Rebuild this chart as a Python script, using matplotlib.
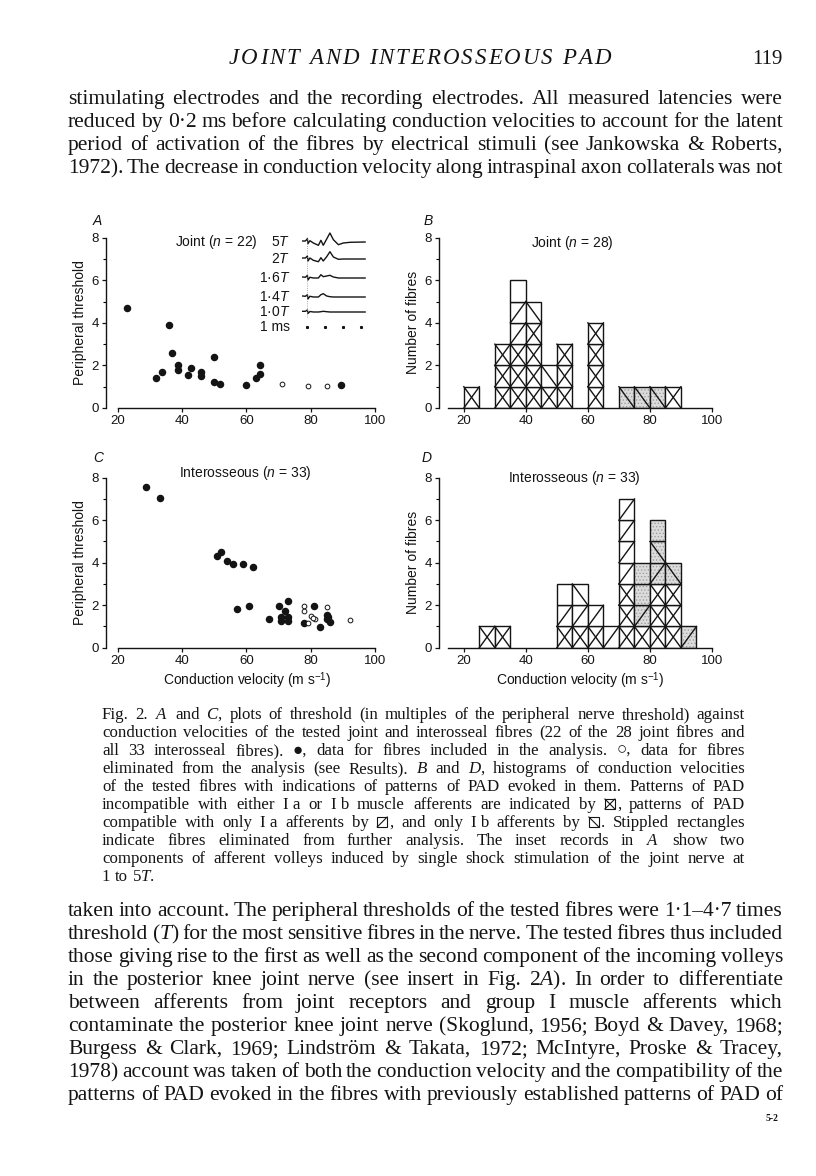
import matplotlib
matplotlib.use('Agg')
import matplotlib.pyplot as plt
from matplotlib.patches import Rectangle
from matplotlib.lines import Line2D

plt.rcParams['font.family'] = ['Liberation Sans', 'DejaVu Sans']
plt.rcParams['mathtext.fontset'] = 'custom'
plt.rcParams['mathtext.rm'] = 'Liberation Serif'
plt.rcParams['mathtext.it'] = 'Liberation Serif:italic'
plt.rcParams['mathtext.sf'] = 'Liberation Sans:italic'
plt.rcParams['mathtext.bf'] = 'Liberation Sans'
plt.rcParams['hatch.linewidth'] = 0.6

# ---- panel A: joint fibres (threshold vs conduction velocity) ----
a_cv_in = [22.9, 35.9, 36.8, 31.8, 33.8, 38.8, 38.8, 42.8, 41.8, 45.9, 45.9,
           49.8, 49.8, 51.8, 60.0, 63.0, 64.2, 64.2, 89.4]
a_thr_in = [4.72, 3.9, 2.58, 1.41, 1.67, 2.03, 1.77, 1.9, 1.53, 1.69, 1.52,
            2.39, 1.22, 1.14, 1.09, 1.41, 1.59, 2.0, 1.09]
a_cv_out = [71.1, 79.1, 85.1]
a_thr_out = [1.12, 1.05, 1.02]

# ---- panel C: interosseous fibres ----
c_cv_in = [28.9, 33.0, 50.9, 52.0, 53.9, 55.8, 58.8, 61.9, 57.0, 60.9, 67.0,
           70.0, 70.9, 70.9, 72.1, 73.0, 73.0, 73.0, 78.0, 81.1, 85.0, 85.0,
           86.0, 83.0, 85.3]
c_thr_in = [7.55, 7.06, 4.30, 4.50, 4.08, 3.92, 3.92, 3.81, 1.82, 1.98, 1.36,
            1.95, 1.46, 1.25, 1.74, 2.20, 1.46, 1.25, 1.18, 1.98, 1.54, 1.35,
            1.19, 0.99, 1.45]
c_cv_out = [78.0, 78.0, 79.1, 80.0, 81.2, 85.1, 92.3, 80.6]
c_thr_out = [1.96, 1.74, 1.15, 1.50, 1.36, 1.90, 1.30, 1.42]

# ---- histograms: one string per 5 m/s bin, cells from bottom to top ----
# x: incompatible with Ia and Ib, a: Ia only, b: Ib only, o: none
# upper case = stippled (eliminated), S = stippled without pattern
b_bins = [20, 30, 35, 40, 45, 50, 60, 70, 75, 80, 85]
b_cells = ['x', 'xxx', 'xxxaao', 'xxxxb', 'xb', 'xxx', 'xxxx', 'B', 'B', 'B', 'x']
d_bins = [25, 30, 50, 55, 60, 65, 70, 75, 80, 85, 90]
d_cells = ['x', 'x', 'xao', 'xab', 'xa', 'a', 'xxxaaaa', 'xASS', 'xxxABS', 'xxxB', 'A']

# ---- inset records in A (time in ms, deflection in px) ----
t_ms = [-0.22, -0.07, 0.04, 0.07, 0.18, 0.37, 0.65, 0.79, 0.92, 1.11, 1.29,
        1.48, 1.76, 2.03, 2.41, 3.24]
trace_labels = ['5$\\mathsf{T}$', '2$\\mathsf{T}$', '1·6$\\mathsf{T}$', '1·4$\\mathsf{T}$', '1·0$\\mathsf{T}$']
trace_y = [242, 259, 278, 297, 312]
traces = [
    [1, 1, 3.3, -1.7, 1.3, -1, -3.3, 1.7, -3.3, 3, 9, 2.3, -2.7, -1, -0.3, 0],
    [1, 1, 3, -2, 1, -1.3, -2.7, 1.3, -2, 2.3, 7.3, 2, -0.3, 0, 0, 0],
    [1, 0.7, 2.7, -2, 0.7, 0, 0, 3.3, 1.3, 2, 2.7, 1, 0, 0, 0, 0],
    [1, 0.7, 2.3, -2, 0.7, 0, 0, 2.3, 3.3, 1, 0.3, 0, 0, 0, 0, 0],
    [0.7, 0.7, 2, -1.5, 0.5, 0, 0, 0.3, 0.7, 0.3, 0, 0, 0, 0, 0, 0],
]
ms_marks = [0, 1, 2, 3]

# ---- page text ----
header = 'JOINT AND INTEROSSEOUS PAD'
page_no = '119'
top_lines = [
    'stimulating electrodes and the recording electrodes. All measured latencies were',
    'reduced by 0·2 ms before calculating conduction velocities to account for the latent',
    'period of activation of the fibres by electrical stimuli (see Jankowska & Roberts,',
    '1972). The decrease in conduction velocity along intraspinal axon collaterals was not',
]
caption_lines = [
    'Fig. 2. $A$ and $C$, plots of threshold (in multiples of the peripheral nerve threshold) against',
    'conduction velocities of the tested joint and interosseal fibres (22 of the 28 joint fibres and',
    'all 33 interosseal fibres). ●, data for fibres included in the analysis. ○, data for fibres',
    'eliminated from the analysis (see Results). $B$ and $D$, histograms of conduction velocities',
    'of the tested fibres with indications of patterns of PAD evoked in them. Patterns of PAD',
    'incompatible with either I\u00a0a or I\u00a0b muscle afferents are indicated by [X], patterns of PAD',
    'compatible with only I\u00a0a afferents by [/], and only I\u00a0b afferents by [\\]. Stippled rectangles',
    'indicate fibres eliminated from further analysis. The inset records in $A$ show two',
    'components of afferent volleys induced by single shock stimulation of the joint nerve at',
    '1 to 5$T$.',
]
bottom_lines = [
    'taken into account. The peripheral thresholds of the tested fibres were 1·1–4·7 times',
    'threshold ($T$) for the most sensitive fibres in the nerve. The tested fibres thus included',
    'those giving rise to the first as well as the second component of the incoming volleys',
    'in the posterior knee joint nerve (see insert in Fig. 2$A$). In order to differentiate',
    'between afferents from joint receptors and group I muscle afferents which',
    'contaminate the posterior knee joint nerve (Skoglund, 1956; Boyd & Davey, 1968;',
    'Burgess & Clark, 1969; Lindström & Takata, 1972; McIntyre, Proske & Tracey,',
    '1978) account was taken of both the conduction velocity and the compatibility of the',
    'patterns of PAD evoked in the fibres with previously established patterns of PAD of',
]

W, H = 816, 1176
INK = '#141414'
STIPPLE = '#dcdcdc'
SERIF = 'Liberation Serif'
SYMBOL_FONTS = ['Liberation Serif', 'DejaVu Sans']
BOXES = ('[X]', '[/]', '[\\]')
BOX_W = 10


def fx(x):
    return x / W


def fy(y):
    return 1 - y / H


fig = plt.figure(figsize=(W / 100, H / 100), dpi=100)
fig.patch.set_facecolor('white')


def style_axes(ax, xstart):
    for s in ['top', 'right']:
        ax.spines[s].set_visible(False)
    ax.spines['bottom'].set_bounds(xstart, 100)
    ax.spines['left'].set_bounds(0, 8)
    for s in ['bottom', 'left']:
        ax.spines[s].set_linewidth(1.0)
        ax.spines[s].set_color(INK)
    ax.set_ylim(0, 8)
    ax.set_xticks([20, 40, 60, 80, 100])
    ax.set_yticks([0, 2, 4, 6, 8])
    ax.set_yticks([1, 3, 5, 7], minor=True)
    ax.tick_params(direction='out', length=3, width=0.9, labelsize=9.5, pad=2, colors=INK)
    ax.tick_params(which='minor', length=2, width=0.8)
    ax.patch.set_visible(False)


def draw_hist(ax, bins, cells):
    for left, col in zip(bins, cells):
        for lev, code in enumerate(col):
            if code.isupper():
                # stippled cell: light grey with a fine dot texture
                ax.bar(left, 1, width=5, bottom=lev, align='edge', color=STIPPLE,
                       hatch='.....', edgecolor='0.62', linewidth=0, zorder=2)
            ax.bar(left, 1, width=5, bottom=lev, align='edge',
                   fill=not code.isupper(), color='white',
                   edgecolor=INK, linewidth=1.0, zorder=2)
            c = code.lower()
            if c in 'xa':
                ax.plot([left, left + 5], [lev, lev + 1], color=INK, lw=1.0, zorder=3)
            if c in 'xb':
                ax.plot([left, left + 5], [lev + 1, lev], color=INK, lw=1.0, zorder=3)


def scatter(ax, cv_in, thr_in, cv_out, thr_out):
    ax.plot(cv_in, thr_in, 'o', color=INK, ms=4.4, clip_on=False, zorder=3)
    ax.plot(cv_out, thr_out, 'o', mfc='white', mec=INK, ms=3.4, mew=0.7, clip_on=False, zorder=3)


ax_a = fig.add_axes([fx(106), fy(408), 269 / W, 170.3 / H])
ax_a.set_xlim(16.3, 100)
style_axes(ax_a, 20)
scatter(ax_a, a_cv_in, a_thr_in, a_cv_out, a_thr_out)

ax_b = fig.add_axes([fx(439), fy(408), 273 / W, 170.3 / H])
ax_b.set_xlim(12, 100)
style_axes(ax_b, 15)
draw_hist(ax_b, b_bins, b_cells)

ax_c = fig.add_axes([fx(106), fy(647.7), 269 / W, 170 / H])
ax_c.set_xlim(16.3, 100)
style_axes(ax_c, 20)
scatter(ax_c, c_cv_in, c_thr_in, c_cv_out, c_thr_out)

ax_d = fig.add_axes([fx(439), fy(647.7), 273 / W, 170 / H])
ax_d.set_xlim(12, 100)
style_axes(ax_d, 15)
draw_hist(ax_d, d_bins, d_cells)

# axis labels
for ax, lab in [(ax_a, 'Peripheral threshold'), (ax_c, 'Peripheral threshold'),
                (ax_b, 'Number of fibres'), (ax_d, 'Number of fibres')]:
    ax.text(-0.095, 0.5, lab, transform=ax.transAxes, rotation=90, ha='center',
            va='center', fontsize=10, color=INK)
for ax, xc in [(ax_c, 0.524), (ax_d, 0.516)]:
    ax.text(xc, -0.196, 'Conduction velocity (m s$^{\\mathbf{-1}}$)', transform=ax.transAxes,
            ha='center', va='center', fontsize=10, color=INK)

# panel letters and titles
for letter, x, y in [('A', 97, 221), ('B', 428, 221), ('C', 98, 458), ('D', 427, 458)]:
    fig.text(fx(x), fy(y), letter, style='italic', fontsize=10, ha='center', va='center', color=INK)
fig.text(fx(175), fy(242), 'Joint ($\\mathsf{n}$ = 22)', ha='left', va='center', fontsize=10, color=INK)
fig.text(fx(572), fy(243), 'Joint ($\\mathsf{n}$ = 28)', ha='center', va='center', fontsize=10, color=INK)
fig.text(fx(245), fy(473), 'Interosseous ($\\mathsf{n}$ = 33)', ha='center', va='center', fontsize=10, color=INK)
fig.text(fx(574), fy(478), 'Interosseous ($\\mathsf{n}$ = 33)', ha='center', va='center', fontsize=10, color=INK)

# inset records
ax_in = fig.add_axes([fx(300), fy(332), 68 / W, 100 / H])
ax_in.set_xlim(-0.37, 3.4)
ax_in.set_ylim(0, 100)
ax_in.axis('off')
for lab, ypx, amps in zip(trace_labels, trace_y, traces):
    base = 332 - ypx
    ax_in.plot(t_ms, [base + a for a in amps], color=INK, lw=1.0)
    fig.text(fx(290), fy(ypx), lab, ha='right', va='center', fontsize=10, color=INK)
ax_in.plot([0.02, 0.02], [15, 95], ls=':', color='0.55', lw=0.6)
ax_in.plot(ms_marks, [5] * len(ms_marks), 's', ms=1.2, color=INK)
fig.text(fx(290), fy(327), '1 ms', ha='right', va='center', fontsize=10, color=INK)

# ---- page text ----
renderer = fig.canvas.get_renderer()


def draw_box(code, x, ybase):
    x0, y0, x1, y1 = fx(x), fy(ybase), fx(x + BOX_W), fy(ybase - BOX_W)
    fig.add_artist(Rectangle((x0, y0), x1 - x0, y1 - y0, transform=fig.transFigure,
                             fill=False, lw=0.8, edgecolor=INK))
    if code in ('[X]', '[/]'):
        fig.add_artist(Line2D([x0, x1], [y0, y1], transform=fig.transFigure, lw=0.8, color=INK))
    if code in ('[X]', '[\\]'):
        fig.add_artist(Line2D([x0, x1], [y1, y0], transform=fig.transFigure, lw=0.8, color=INK))


def put_line(text, y, x0, x1, size, justify=True):
    words = text.split(' ')
    space = 0.25 * size * 100 / 72
    while True:
        items = []
        for w in words:
            code = w[:3] if w[:3] in BOXES else None
            rest = w[3:] if code else w
            t = None
            tw = 0.0
            if rest:
                fam = SYMBOL_FONTS if ('●' in rest or '○' in rest) else SERIF
                t = fig.text(0, fy(y), rest, fontsize=size, family=fam, va='baseline', color=INK)
                tw = t.get_window_extent(renderer).width
            bw = BOX_W + 3 if code else 0.0
            items.append((code, t, bw, tw))
        total = sum(i[2] + i[3] for i in items)
        if not justify or len(items) < 2:
            gap = space
            break
        gap = (x1 - x0 - total) / (len(items) - 1)
        if gap >= 0.6 * space:
            break
        for i in items:
            if i[1] is not None:
                i[1].remove()
        size *= (x1 - x0 - 0.65 * space * (len(items) - 1)) / total
    x = x0
    for code, t, bw, tw in items:
        if code:
            draw_box(code, x + 1, y)
        if t is not None:
            t.set_x(fx(x + bw))
        x += bw + tw + gap


def put_tracked(text, y, x0, x1, size, style):
    # letter-spaced running head
    space = 0.25 * size * 100 / 72
    items = []
    for ch in text:
        if ch == ' ':
            items.append((None, space))
        else:
            t = fig.text(0, fy(y), ch, fontsize=size, family=SERIF, style=style,
                         va='baseline', color=INK)
            items.append((t, t.get_window_extent(renderer).width))
    track = (x1 - x0 - sum(w for _, w in items)) / (len(items) - 1)
    x = x0
    for t, w in items:
        if t is not None:
            t.set_x(fx(x))
        x += w + track


put_tracked(header, 64, 229, 611, 16.5, 'italic')
fig.text(fx(783), fy(64), page_no, family=SERIF, fontsize=15, ha='right', va='baseline', color=INK)

for i, line in enumerate(top_lines):
    put_line(line, 104 + 23 * i, 68, 783, 15.5)
for i, line in enumerate(caption_lines):
    put_line(line, 719 + 18 * i, 102, 745, 12.2, justify=(i < len(caption_lines) - 1))
for i, line in enumerate(bottom_lines):
    put_line(line, 916 + 23 * i, 68, 783, 15.5)
fig.text(fx(778), fy(1121), '5-2', family=SERIF, fontsize=7, weight='bold', ha='right',
         va='baseline', color=INK)

fig.savefig('out.png', dpi=100, facecolor='white')
